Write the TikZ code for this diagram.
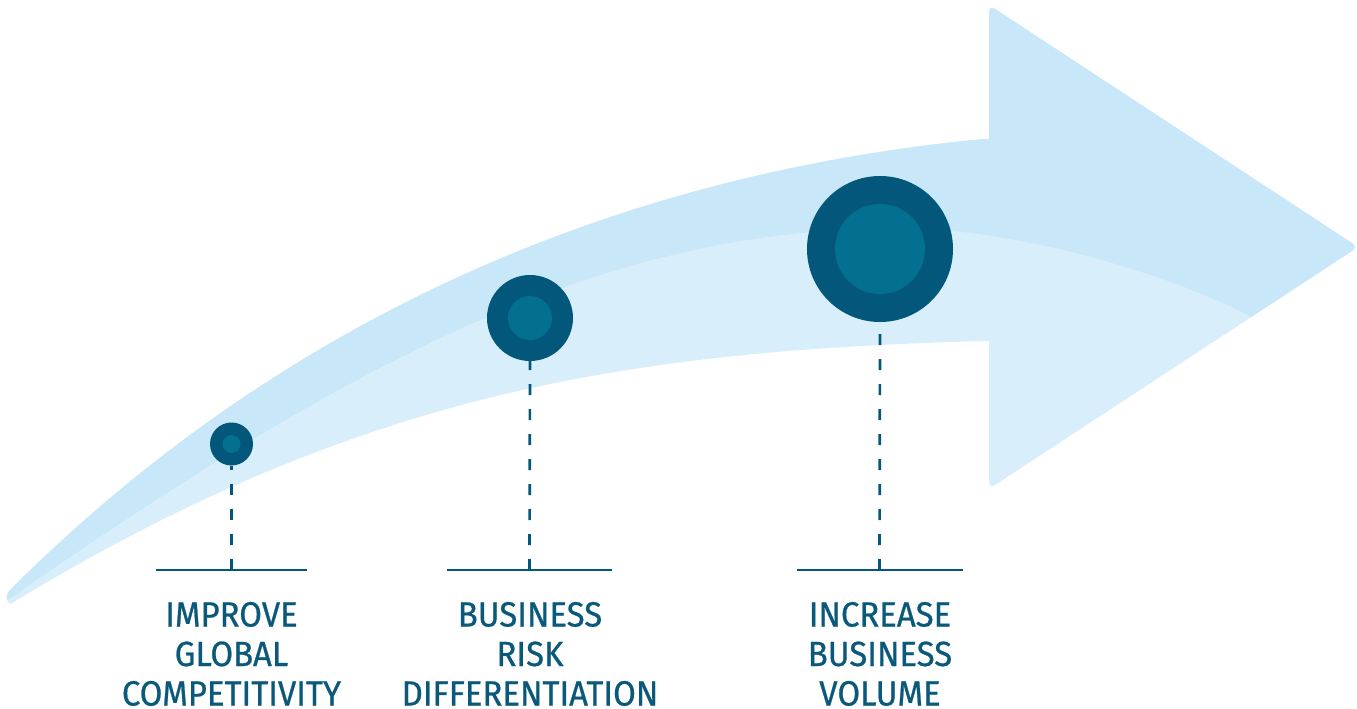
\documentclass[tikz,border=0pt]{standalone}
\usepackage{fontspec}
\setmainfont{Fira Sans}[FakeStretch=0.94,FakeBold=0.7]
\definecolor{bandA}{HTML}{C8E7F8}
\definecolor{bandB}{HTML}{D9EEFB}
\definecolor{ringc}{HTML}{02577A}
\definecolor{corec}{HTML}{037092}
\definecolor{textc}{HTML}{0A587A}
\begin{document}
\begin{tikzpicture}[x=1pt,y=-1pt,
  ring/.style={circle,fill=ringc,inner sep=0pt,draw=none},
  core/.style={circle,fill=corec,inner sep=0pt,draw=none},
  hbar/.style={rectangle,fill=ringc,inner sep=0pt,draw=none,minimum height=2.8pt},
  dashc/.style={draw=ringc,line width=2.7pt,dash pattern=on 11pt off 14pt},
  lbl/.style={anchor=base,inner sep=0pt,text depth=0pt,text=textc,font=\fontsize{35}{40}\selectfont}]
\useasboundingbox (0,0) rectangle (1357,709);
\def\arrowpath{(10,590) .. controls (260,340) and (583,179) .. (983,139) .. controls (988,139) and (989,137) .. (989,132) -- (989,5) -- (1358,247) -- (989,489) -- (989,348) .. controls (989,343) and (988,341) .. (983,341) .. controls (633,351.5) and (367,390) .. (17,600) .. controls (9,605) and (3,597) .. (10,590)}
\begin{scope}
  \clip[rounded corners=7pt] \arrowpath;
  \fill[bandB] (-20,-20) rectangle (1400,720);
  \fill[bandA] (-10,612) -- (22,590) .. controls (352,362) and (600,228) .. (900,228)
     .. controls (1000,228) and (1150,265) .. (1250,316) -- (1400,410) -- (1400,-20) -- (-20,-20) -- cycle;
\end{scope}
% bars
\node[hbar,minimum width=151pt] (h1) at (231.5,570) {};
\node[hbar,minimum width=165pt] (h2) at (529.5,570) {};
\node[hbar,minimum width=166pt] (h3) at (879.5,570) {};
% circles
\node[ring,minimum size=43pt] (c1) at (231.5,444) {};
\node[core,minimum size=18pt] (c1i) at (231.5,444) {};
\node[ring,minimum size=86pt] (c2) at (530,318) {};
\node[core,minimum size=44pt] (c2i) at (530,318) {};
\node[ring,minimum size=146pt] (c3) at (880,249) {};
\node[core,minimum size=90pt] (c3i) at (880,249) {};
% dashed connectors
\draw[dashc] (h1.center) -- (c1.south);
\draw[dashc] (h2.center) -- (c2.south);
\draw[dashc] (h3.center) -- (c3.south);
% labels
\node[lbl] (l1a) at (231.5,626.5) {IMPROVE};
\node[lbl] (l1b) at (231.5,666) {GLOBAL};
\node[lbl] (l1c) at (231.5,705.5) {COMPETITIVITY};
\node[lbl] (l2a) at (530,626.5) {BUSINESS};
\node[lbl] (l2b) at (530,666) {RISK};
\node[lbl] (l2c) at (530,705.5) {DIFFERENTIATION};
\node[lbl] (l3a) at (880,626.5) {INCREASE};
\node[lbl] (l3b) at (880,666) {BUSINESS};
\node[lbl] (l3c) at (880,705.5) {VOLUME};
\end{tikzpicture}
\end{document}
